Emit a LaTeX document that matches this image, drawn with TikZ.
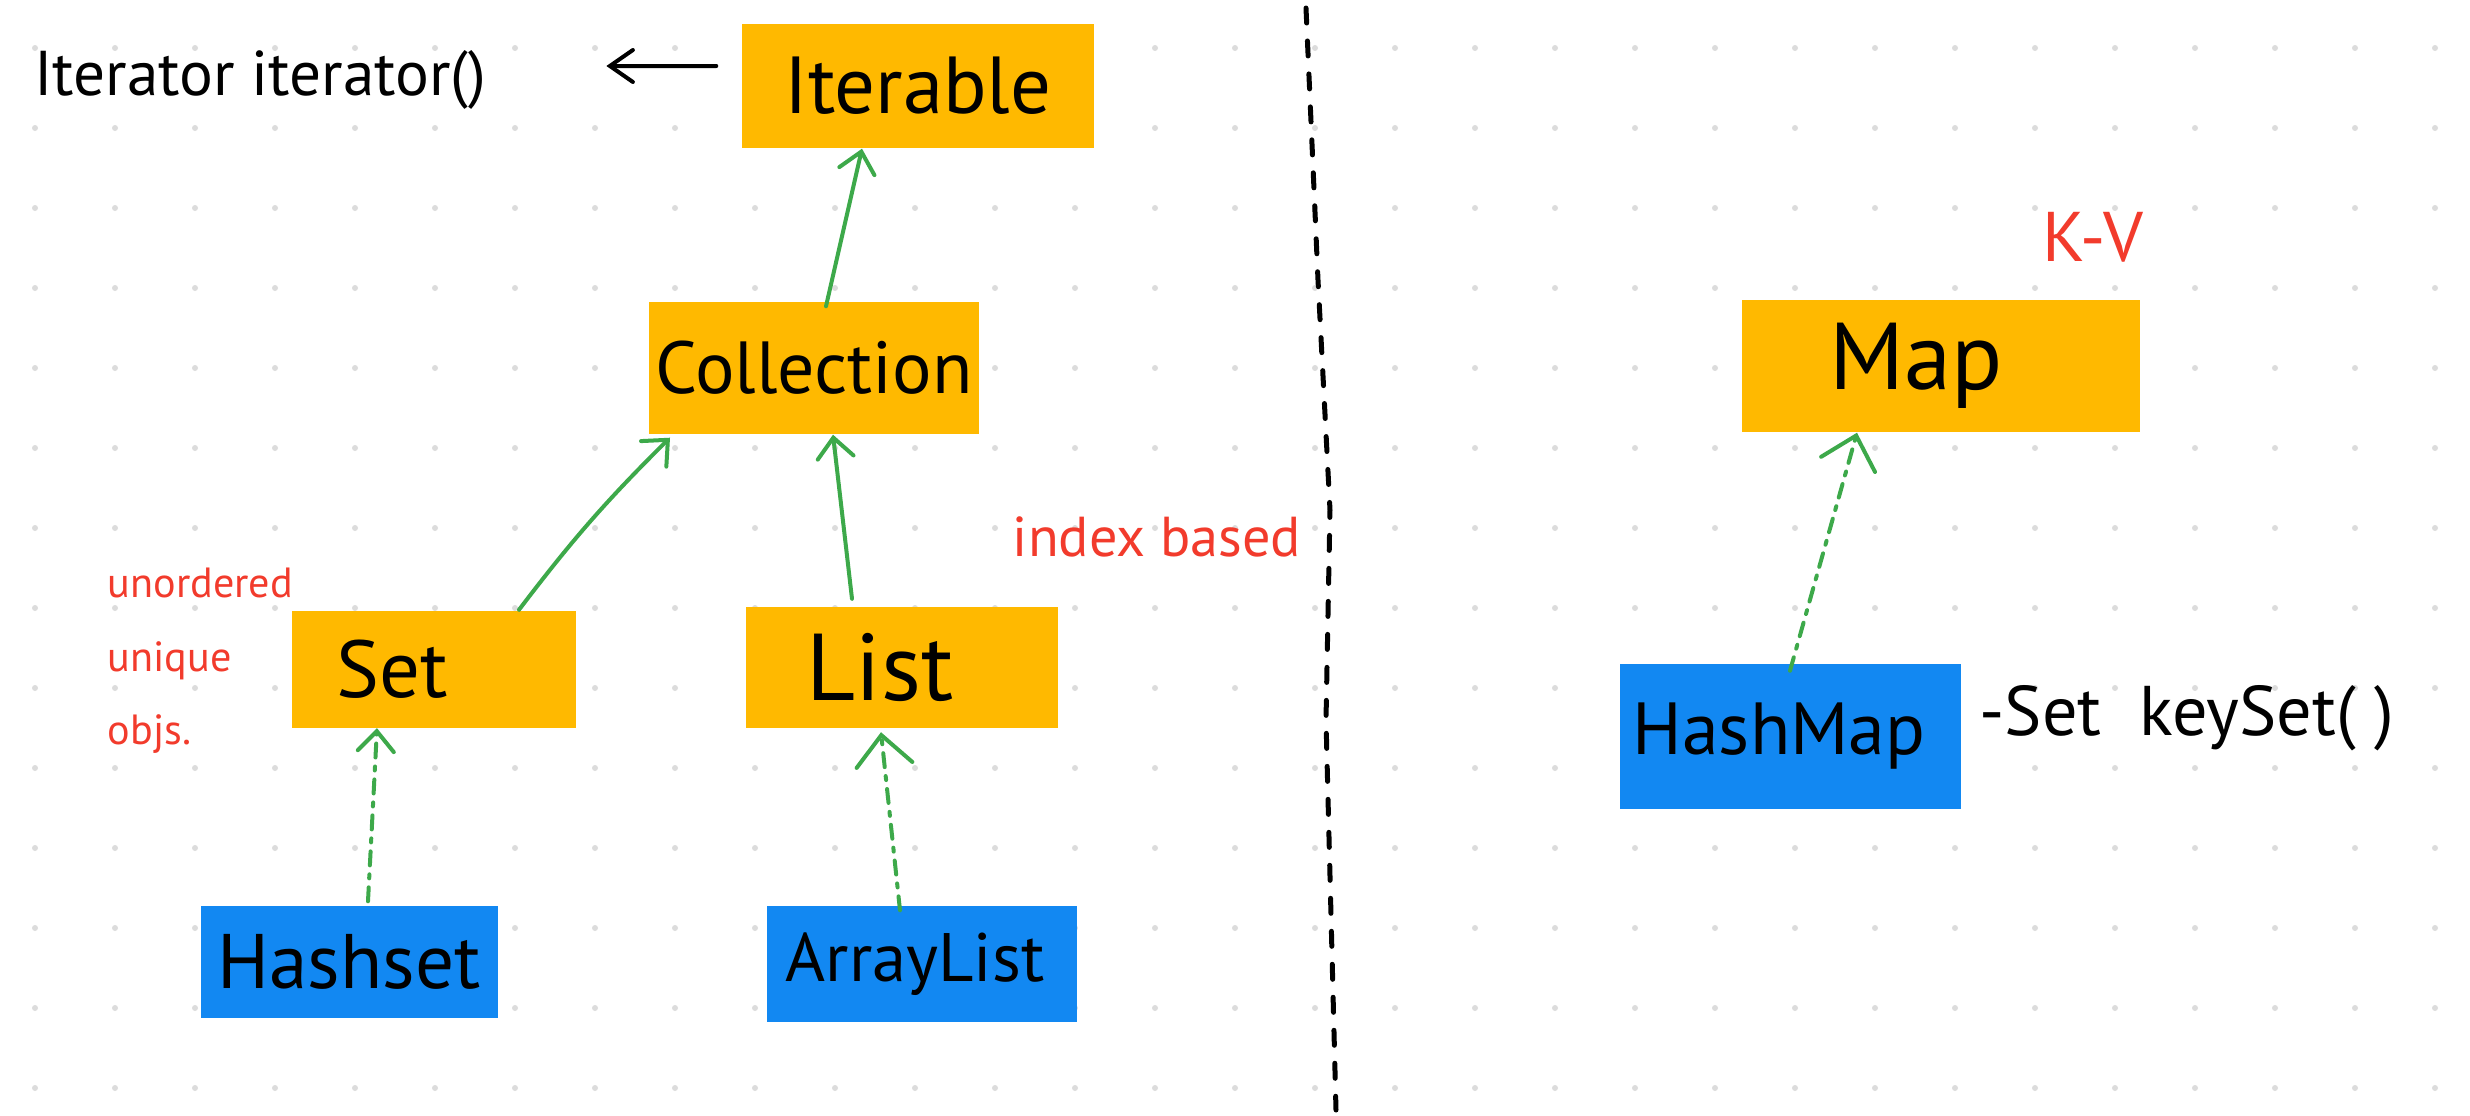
\documentclass[tikz,border=0pt]{standalone}
\usepackage{fontspec}
\setmainfont{PT Sans}
\usepackage{tikz}
\usetikzlibrary{arrows.meta}
\usetikzlibrary{positioning}
\definecolor{boxorange}{HTML}{FFB900}
\definecolor{boxblue}{HTML}{1288F2}
\definecolor{arrgreen}{HTML}{3DA94A}
\definecolor{notered}{HTML}{F23B2C}
\definecolor{dotgrey}{HTML}{DCDCDC}

\begin{document}
\begin{tikzpicture}[x=0.1mm, y=-0.1mm]
      \tikzset{
        iface/.style={fill=boxorange, inner sep=0pt, font=\fontsize{#1}{#1}\selectfont},
        iface/.default=23,
        klass/.style={fill=boxblue, inner sep=0pt, font=\fontsize{#1}{#1}\selectfont},
        klass/.default=22,
        extends/.style={arrgreen, line width=0.4mm, line cap=round,
            -{Straight Barb[length=2mm, width=3.6mm, line cap=round]}},
        implements/.style={extends,
            dash pattern=on 1.4mm off 0.9mm on 0.4mm off 0.9mm},
        remark/.style={notered, font=\fontsize{#1}{#1}\selectfont},
        remark/.default=16
      }

      \def\W{2470} % page width
      \def\H{1116} % page height
      \def\gap{80} % dot spacing
      \useasboundingbox (0,0) rectangle (\W,\H);
      \fill[white] (0,0) rectangle (\W,\H);

      % Dot grid
      \foreach \i in {0,...,30}
        \foreach \j in {0,...,13}
          \fill[dotgrey] (35+\gap*\i, 48+\gap*\j) circle (0.3mm);

      % Separator
      \draw[line width=0.5mm, line cap=round, dash pattern=on 1.5mm off 1.8mm]
        (1306,8) -- (1318,280) -- (1330,510) -- (1326,720) -- (1336,1110);

      % Interfaces
      \node[iface, minimum width=35.2mm, minimum height=12.4mm] (iter) at (918,86) {Iterable};
      \node[iface=21, minimum width=33mm, minimum height=13.2mm] (coll) at (814,368) {Collection};
      \node[iface, minimum width=28.4mm, minimum height=11.7mm] (set) at (434,669) {Set\hspace*{8.4mm}};
      \node[iface=27, minimum width=31.2mm, minimum height=12.1mm] (list) at (902,667) {List\hspace*{4.4mm}};
      \node[iface=27, minimum width=39.8mm, minimum height=13.2mm] (map) at (1941,366) {Map\hspace*{5mm}};

      % Classes
      \node[klass, minimum width=29.7mm, minimum height=11.2mm] (hset) at (349,962) {Hashset};
      \node[klass=19.5, minimum width=31mm, minimum height=11.6mm] (alist) at (922,964) {ArrayList\hspace*{1.4mm}};
      \node[klass=21, minimum width=34.1mm, minimum height=14.5mm] (hmap) at (1790,736) {HashMap\hspace*{2.2mm}};

      % Methods
      \node[anchor=west, font=\fontsize{18}{21}\selectfont] (itxt) at (22,80) {Iterator iterator()};
      \node[right=0.6mm of hmap, yshift=1.8mm, font=\fontsize{20}{23}\selectfont] (keys) {-Set~~keySet( )};
      \draw[line width=0.4mm, line cap=round, -{Straight Barb[length=2.3mm, width=3.2mm, line cap=round]}]
        ([xshift=-2.5mm, yshift=2mm]iter.west) -- ([xshift=10.8mm, yshift=1.4mm]itxt.east);

      % Notes
      \node[remark=20] (kv) at (2093,237) {K-V};
      \node[remark] (idx) at (1157,537) {index based};
      \node[notered, font=\fontsize{12}{21}\selectfont, inner sep=0pt, anchor=north west, align=left] (uniq) at (107,567)
        {unordered\\unique\\objs.};

      % Inheritance
      \draw[extends] ([xshift=1.2mm, yshift=-0.5mm]coll.north) -- ([xshift=-5.6mm]iter.south);
      \draw[extends] ([xshift=8.5mm]set.north) to[bend left=4] ([xshift=-14.4mm, yshift=-0.3mm]coll.south);
      \draw[extends] ([xshift=-5mm, yshift=0.7mm]list.north) -- ([xshift=1.9mm]coll.south);

      % Implementations
      \draw[implements] ([xshift=1.9mm, yshift=0.4mm]hset.north) -- ([xshift=-5.7mm]set.south);
      \draw[implements, -{Straight Barb[length=3mm, width=5.6mm, line cap=round]}]
        ([xshift=-2.2mm, yshift=-0.5mm]alist.north) -- ([xshift=-2.1mm, yshift=-0.4mm]list.south);
      \draw[implements, -{Straight Barb[length=3mm, width=5.6mm, line cap=round]}]
        ([yshift=-0.8mm]hmap.north) -- ([xshift=-8.4mm]map.south);
\end{tikzpicture}
\end{document}
